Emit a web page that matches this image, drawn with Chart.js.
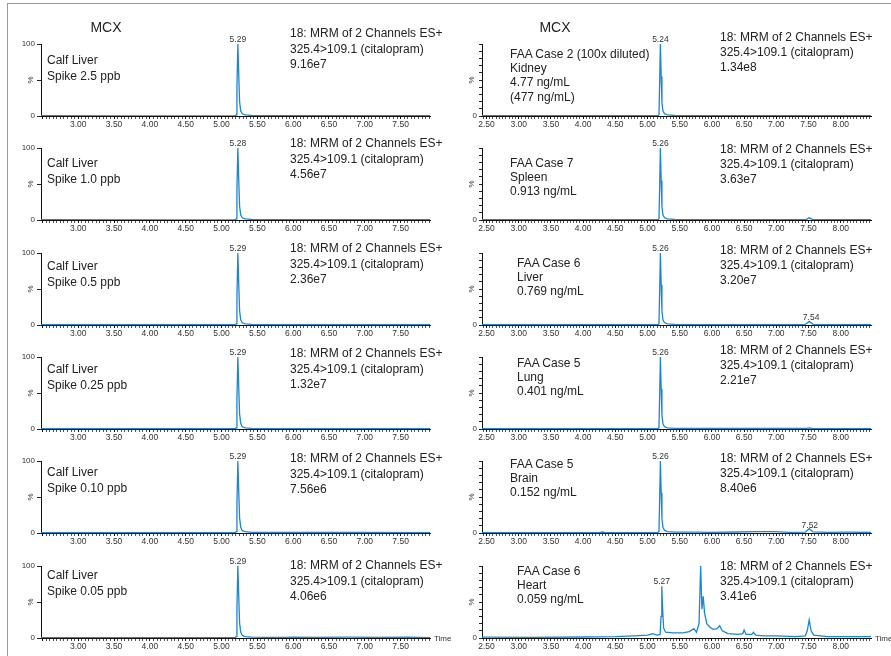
<!DOCTYPE html>
<html>
<head>
<meta charset="utf-8">
<script src="https://cdn.jsdelivr.net/npm/chart.js@4.4.1/dist/chart.umd.min.js"></script>
<style>
  body { margin: 0; width: 891px; height: 656px; overflow: hidden; background: #fff; position: relative;
         font-family: "Liberation Sans", Arial, sans-serif; color: #222; }
  .frame { position: absolute; left: 7px; top: 3px; width: 920px; height: 700px; border: 1px solid #9a9a9a; }
  canvas { position: absolute; }
  .txt { position: absolute; font-size: 12px; white-space: nowrap; color: #222; }
  .mcx { position: absolute; font-size: 14px; color: #222; transform: translateX(-50%); }
</style>
</head>
<body>
<div class="frame"></div>
<script>
// sample annotations
const leftSamples = [
  ["Calf Liver", "Spike 2.5 ppb"],
  ["Calf Liver", "Spike 1.0 ppb"],
  ["Calf Liver", "Spike 0.5 ppb"],
  ["Calf Liver", "Spike 0.25 ppb"],
  ["Calf Liver", "Spike 0.10 ppb"],
  ["Calf Liver", "Spike 0.05 ppb"]
];
const rightSamples = [
  ["FAA Case 2 (100x diluted)", "Kidney", "4.77 ng/mL", "(477 ng/mL)"],
  ["FAA Case 7", "Spleen", "0.913 ng/mL"],
  ["FAA Case 6", "Liver", "0.769 ng/mL"],
  ["FAA Case 5", "Lung", "0.401 ng/mL"],
  ["FAA Case 5", "Brain", "0.152 ng/mL"],
  ["FAA Case 6", "Heart", "0.059 ng/mL"]
];
const channelLines = ["18: MRM of 2 Channels ES+", "325.4>109.1 (citalopram)"];
const leftMaxIntensity = ["9.16e7", "4.56e7", "2.36e7", "1.32e7", "7.56e6", "4.06e6"];
const rightMaxIntensity = ["1.34e8", "3.63e7", "3.20e7", "2.21e7", "8.40e6", "3.41e6"];

// retention time labels: [text, time, height]
const leftPeakLabels = [
  [["5.29", 5.228, 100]], [["5.28", 5.228, 100]], [["5.29", 5.228, 100]],
  [["5.29", 5.228, 100]], [["5.29", 5.228, 100]], [["5.29", 5.228, 100]]
];
const rightPeakLabels = [
  [["5.24", 5.20, 100]],
  [["5.26", 5.20, 100]],
  [["5.26", 5.20, 100], ["7.54", 7.54, 5]],
  [["5.26", 5.20, 100]],
  [["5.26", 5.20, 100], ["7.52", 7.52, 6]],
  [["5.27", 5.22, 72]]
];

const leftTickLabels = ["3.00", "3.50", "4.00", "4.50", "5.00", "5.50", "6.00", "6.50", "7.00", "7.50"];
const rightTickLabels = ["2.50", "3.00", "3.50", "4.00", "4.50", "5.00", "5.50", "6.00", "6.50", "7.00", "7.50", "8.00"];
const leftRange = [2.48, 7.91];
const rightRange = [2.43, 8.47];

// chromatograms, [time (min), intensity (%)]
const traceL1 = [[2.48,0.4],[3.6,0.3],[5.19,0.4],[5.205,1.5],[5.215,40],[5.228,100],[5.24,58],[5.252,20],[5.268,7],[5.29,3],[5.33,1.5],[5.42,0.8],[5.8,0.5],[7.91,0.4]];
const traceL2 = [[2.48,0.4],[4.2,0.3],[5.19,0.4],[5.205,1.5],[5.215,42],[5.228,100],[5.24,56],[5.252,19],[5.268,7],[5.29,3],[5.33,1.5],[5.42,0.8],[5.9,0.5],[7.91,0.4]];
const traceL3 = [[2.48,0.4],[4.0,0.4],[5.19,0.4],[5.205,1.5],[5.215,40],[5.228,100],[5.24,57],[5.252,20],[5.268,7],[5.29,3],[5.33,1.6],[5.42,0.9],[6.0,0.5],[7.91,0.4]];
const traceL4 = [[2.48,0.4],[4.4,0.4],[5.19,0.5],[5.205,1.5],[5.215,41],[5.228,100],[5.24,58],[5.252,21],[5.268,8],[5.29,3],[5.33,1.6],[5.42,0.9],[6.1,0.6],[7.91,0.4]];
const traceL5 = [[2.48,0.5],[4.3,0.5],[5.19,0.5],[5.205,1.8],[5.215,40],[5.228,100],[5.24,58],[5.252,21],[5.268,8],[5.29,3.2],[5.33,1.8],[5.42,1.0],[6.0,0.7],[6.9,0.8],[7.91,0.5]];
const traceL6 = [[2.48,0.5],[4.0,0.6],[5.19,0.6],[5.205,2],[5.215,42],[5.228,100],[5.24,58],[5.252,21],[5.268,8],[5.29,3.5],[5.33,2],[5.42,1.2],[5.6,1.0],[5.9,0.7],[6.0,1.3],[6.3,0.8],[6.8,1.2],[7.2,0.7],[7.6,1.1],[7.91,0.6]];

const traceR1 = [[2.43,0.4],[4.0,0.4],[5.16,0.4],[5.178,1.5],[5.188,45],[5.2,100],[5.212,55],[5.224,18],[5.24,7],[5.265,3],[5.31,1.5],[5.42,0.8],[6.2,0.5],[8.47,0.4]];
const traceR2 = [[2.43,0.4],[4.2,0.4],[5.16,0.4],[5.178,1.5],[5.188,44],[5.2,100],[5.212,55],[5.224,18],[5.24,7],[5.265,3],[5.31,1.5],[5.42,0.8],[6.5,0.5],[7.46,0.6],[7.51,3],[7.56,0.8],[8.47,0.4]];
const traceR3 = [[2.43,0.4],[4.4,0.4],[5.16,0.4],[5.178,1.5],[5.188,45],[5.2,100],[5.212,56],[5.224,19],[5.24,7],[5.265,3],[5.31,1.6],[5.42,0.9],[6.5,0.6],[7.45,0.8],[7.51,5],[7.57,1.0],[8.47,0.5]];
const traceR4 = [[2.43,0.5],[4.3,0.5],[5.16,0.5],[5.178,1.6],[5.188,45],[5.2,100],[5.212,56],[5.224,19],[5.24,7],[5.265,3],[5.31,1.6],[5.42,1.0],[6.4,0.7],[7.46,0.8],[7.51,1.6],[7.56,0.8],[8.47,0.6]];
const traceR5 = [[2.43,0.6],[4.25,0.6],[4.3,1.4],[4.35,0.6],[5.16,0.6],[5.178,2],[5.188,46],[5.2,100],[5.212,56],[5.224,20],[5.24,8],[5.265,3.5],[5.31,2],[5.42,1.2],[5.8,1.3],[5.95,0.9],[6.4,1.4],[6.7,1.8],[6.9,2.0],[7.05,1.6],[7.2,1.0],[7.45,1.2],[7.51,6],[7.57,1.5],[7.8,0.9],[8.1,1.1],[8.47,0.7]];
const traceR6 = [[2.43,1.2],[3.2,1.0],[4.0,1.4],[4.5,2],[4.8,3],[5.0,4],[5.08,6],[5.15,4],[5.195,5],[5.21,30],[5.222,72],[5.235,40],[5.25,14],[5.28,8],[5.4,7],[5.55,7],[5.65,9],[5.72,13],[5.76,8],[5.80,20],[5.825,100],[5.845,40],[5.865,58],[5.885,35],[5.92,20],[5.97,15],[6.02,12],[6.08,13],[6.12,17],[6.16,10],[6.25,6],[6.4,5],[6.48,6],[6.50,11],[6.53,5],[6.62,5],[6.645,8],[6.68,4],[6.8,3],[7.0,3],[7.3,2],[7.45,3],[7.48,10],[7.51,25],[7.54,10],[7.58,4],[7.8,2],[8.2,2],[8.47,2]];

const leftTraces = [traceL1, traceL2, traceL3, traceL4, traceL5, traceL6];
const rightTraces = [traceR1, traceR2, traceR3, traceR4, traceR5, traceR6];

const LINE_COLOR = "#1b87d3";
const FONT = '"Liberation Sans", Arial, sans-serif';

// draws retention-time labels, the rotated % and "Time"
const peakLabels = {
  id: "peakLabels",
  afterDatasetsDraw(chart, args, opts) {
    const { ctx, chartArea, scales: { x, y } } = chart;
    ctx.save();
    ctx.fillStyle = "#333";
    ctx.font = "8.5px " + FONT;
    ctx.textAlign = "center";
    ctx.textBaseline = "bottom";
    opts.labels.forEach(([text, t, v]) => {
      ctx.fillText(text, x.getPixelForValue(t), y.getPixelForValue(v) + (v < 50 ? 1 : 0));
    });
    ctx.font = "8px " + FONT;
    if (opts.showTime) {
      ctx.textAlign = "left";
      ctx.textBaseline = "middle";
      ctx.fillText("Time", chartArea.right + 4, chartArea.bottom + 1);
    }
    ctx.translate(chartArea.left - 10, (chartArea.top + chartArea.bottom) / 2);
    ctx.rotate(-Math.PI / 2);
    ctx.textAlign = "center";
    ctx.textBaseline = "middle";
    ctx.fillText("%", 0, 0);
    ctx.restore();
  }
};

const PT = 14, PR = 30, YW = 36, XH = 18, PLOT_H = 72;

function makePanel(isLeft, row) {
  const axisX = isLeft ? 41 : 482;
  const plotW = 389;
  const top = Math.round(44 + row * 104.3);
  const cv = document.createElement("canvas");
  cv.width = YW + plotW + PR;
  cv.height = PT + PLOT_H + XH;
  cv.style.left = (axisX - YW) + "px";
  cv.style.top = (top - PT) + "px";
  document.body.appendChild(cv);

  const trace = (isLeft ? leftTraces : rightTraces)[row];
  const range = isLeft ? leftRange : rightRange;
  const tickLabels = isLeft ? leftTickLabels : rightTickLabels;
  const isMajor = v => Math.abs(v * 2 - Math.round(v * 2)) < 1e-6;

  new Chart(cv, {
    type: "line",
    data: {
      datasets: [{
        data: trace.map(([x, y]) => ({ x, y })),
        borderColor: LINE_COLOR,
        borderWidth: 1.3,
        pointRadius: 0,
        tension: 0,
        fill: false
      }]
    },
    options: {
      responsive: false,
      animation: false,
      events: [],
      layout: { padding: { top: PT, right: PR, left: 0, bottom: 0 } },
      plugins: {
        legend: { display: false },
        tooltip: { enabled: false },
        peakLabels: { labels: (isLeft ? leftPeakLabels : rightPeakLabels)[row], showTime: row === 5 }
      },
      scales: {
        x: {
          type: "linear",
          min: range[0],
          max: range[1],
          afterFit: s => { s.height = XH; },
          border: { color: "#111", width: 1 },
          grid: {
            drawOnChartArea: false,
            tickLength: 3,
            tickWidth: 1,
            tickColor: c => (c.tick && isMajor(c.tick.value)) ? "#111" : "#555"
          },
          ticks: {
            stepSize: 0.05,
            includeBounds: false,
            autoSkip: false,
            maxRotation: 0,
            padding: 1,
            color: "#333",
            font: { size: 8.5, family: FONT },
            callback: v => {
              const s = v.toFixed(2);
              return isMajor(v) && tickLabels.includes(s) ? s : "";
            }
          }
        },
        y: {
          min: 0,
          max: 100,
          afterFit: s => { s.width = YW; },
          border: { color: "#111", width: 1 },
          grid: { drawOnChartArea: false, tickLength: isLeft ? 4 : 3, tickColor: "#222" },
          ticks: {
            stepSize: isLeft ? 50 : 10,
            autoSkip: false,
            padding: 2,
            color: "#333",
            font: { size: 8, family: FONT },
            callback: v => (v === 0 || (isLeft && v === 100)) ? String(v) : ""
          }
        }
      }
    },
    plugins: [peakLabels]
  });
}

function addText(x, yCenter, lineH, lines, cls) {
  const d = document.createElement("div");
  d.className = cls || "txt";
  d.style.left = x + "px";
  d.style.top = (yCenter - lineH / 2) + "px";
  d.style.lineHeight = lineH + "px";
  d.innerHTML = lines.map(l => l.replace(/&/g, "&amp;").replace(/</g, "&lt;").replace(/>/g, "&gt;")).join("<br>");
  document.body.appendChild(d);
}

for (let r = 0; r < 6; r++) {
  makePanel(true, r);
  makePanel(false, r);
}

// text blocks (first line centre y)
const leftSampleY = [61, 164, 267, 370, 473, 576];
const leftChannelY = [34, 144, 249, 354, 459, 566];
const rightSampleY = [54, 163, 263, 363, 464, 571];
const rightSampleX = [510, 510, 517, 517, 510, 517];
const rightChannelY = [37, 149, 250, 350, 458, 566];

addText(106, 27, 16, ["MCX"], "mcx");
addText(555, 27, 16, ["MCX"], "mcx");
for (let r = 0; r < 6; r++) {
  addText(47, leftSampleY[r], 15.5, leftSamples[r]);
  addText(290, leftChannelY[r], 15.2, channelLines.concat([leftMaxIntensity[r]]));
  addText(rightSampleX[r], rightSampleY[r], 14.2, rightSamples[r]);
  addText(720, rightChannelY[r], 15, channelLines.concat([rightMaxIntensity[r]]));
}
</script>
</body>
</html>
